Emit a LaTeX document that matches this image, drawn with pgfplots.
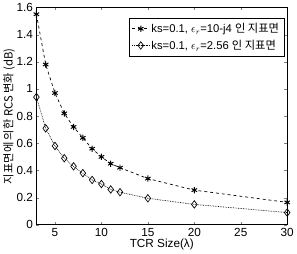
\documentclass[border=0pt]{standalone}
\usepackage{fontspec}
\setmainfont{Liberation Sans}
\newfontfamily\kr{Noto Sans CJK KR}
\usepackage{pgfplots}
\pgfplotsset{compat=1.18}
\begin{document}
\begin{tikzpicture}
\begin{axis}[
  scale only axis, width=255bp, height=221bp,
  xmin=3, xmax=30, ymin=0, ymax=1.6,
  xtick={5,10,15,20,25,30},
  ytick={0,0.2,0.4,0.6,0.8,1,1.2,1.4,1.6},
  yticklabels={0,0.2,0.4,0.6,0.8,1,1.2,1.4,1.6},
  xticklabels={5,10,15,20,25,30},
  tick align=inside, tick pos=both,
  major tick length=3bp,
  axis line style={line width=0.6pt},
  tick label style={font=\fontsize{12}{14}\selectfont},
  xlabel={\fontsize{12}{14}\selectfont TCR Size(λ)},
  ylabel={\kr\fontsize{11.5}{13}\selectfont 지표면에 의한 RCS 변화 (dB)},
  xlabel style={yshift=4bp},
  ylabel style={yshift=-5bp},
  legend style={at={(rel axis cs:0.988,0.95)}, anchor=north east,
    font=\fontsize{11.5}{13}\selectfont, draw=black, row sep=2bp,
    inner sep=3pt},
  legend cell align=left,
]
\addplot[black, dashed, line width=0.7pt, mark=asterisk, mark size=3.2pt, mark options={solid, line width=1pt}] coordinates {
(3,1.55) (4,1.18) (5,0.97) (6,0.82) (7,0.72) (8,0.64) (9,0.56) (10,0.50) (11,0.45) (12,0.42) (15,0.34) (20,0.255) (30,0.165)
};
\addlegendentry{ks=0.1, $\epsilon_r$=10-j4 {\kr 인 지표면}}
\addplot[black, densely dotted, line width=0.7pt, mark=diamond, mark size=3.8pt, mark options={solid, line width=0.7pt}] coordinates {
(3,0.94) (4,0.71) (5,0.58) (6,0.49) (7,0.43) (8,0.38) (9,0.33) (10,0.30) (11,0.26) (12,0.24) (15,0.195) (20,0.15) (30,0.09)
};
\addlegendentry{ks=0.1, $\epsilon_r$=2.56 {\kr 인 지표면}}
\end{axis}
\end{tikzpicture}
\end{document}
